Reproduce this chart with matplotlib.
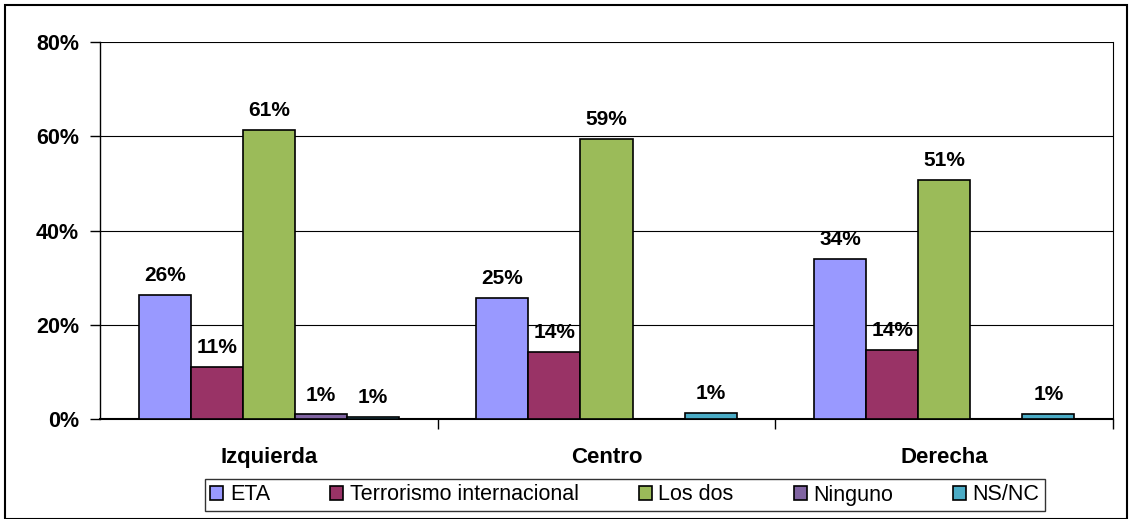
import matplotlib
matplotlib.use("Agg")
import matplotlib.pyplot as plt
from matplotlib.patches import Rectangle
import numpy as np

categories = ["Izquierda", "Centro", "Derecha"]
series_names = ["ETA", "Terrorismo internacional", "Los dos", "Ninguno", "NS/NC"]
eta = [26.3, 25.7, 34.0]
terrorismo = [11.0, 14.2, 14.6]
los_dos = [61.4, 59.4, 50.8]
ninguno = [1.0, 0.0, 0.0]
nsnc = [0.5, 1.3, 1.1]
labels = [["26%", "25%", "34%"], ["11%", "14%", "14%"], ["61%", "59%", "51%"],
          ["1%", "", ""], ["1%", "1%", "1%"]]
colors = ["#9999FF", "#993366", "#9BBB59", "#8064A2", "#4BACC6"]
yticks = [0, 20, 40, 60, 80]
ytick_labels = ["0%", "20%", "40%", "60%", "80%"]

plt.rcParams['font.family'] = ['Liberation Sans', 'DejaVu Sans']

fig = plt.figure(figsize=(11.33, 5.19), dpi=100)
ax = fig.add_axes([100/1133, 1-419/519, (1113-100)/1133, (419-42)/519])

series = [eta, terrorismo, los_dos, ninguno, nsnc]
x = np.arange(len(categories))
w = 52/337
for i, (vals, col) in enumerate(zip(series, colors)):
    pos = x + (i - 2) * w
    ax.bar(pos, vals, width=w, color=col, edgecolor='black', linewidth=1.2,
           label=series_names[i], zorder=3)
    for p, v, lab in zip(pos, vals, labels[i]):
        if lab:
            ax.annotate(lab, (p, v), xytext=(0, 7), textcoords='offset points',
                        ha='center', va='bottom', fontsize=15, fontweight='bold')

ax.set_xlim(-0.5, 2.5)
ax.set_ylim(0, 80)
ax.set_yticks(yticks)
ax.set_yticklabels(ytick_labels, fontsize=15.5, fontweight='bold')
ax.yaxis.grid(True, color='black', linewidth=0.8, zorder=0)
ax.set_xticks([0.5, 1.5, 2.5])
ax.set_xticklabels([])
ax.set_xticks(x, minor=True)
ax.set_xticklabels(categories, minor=True, fontsize=16, fontweight='bold')
ax.tick_params(axis='x', which='minor', length=0, pad=20)
ax.tick_params(axis='x', which='major', length=7, width=1, direction='out')
ax.tick_params(axis='y', length=7, width=1, direction='out', pad=8)
ax.spines['top'].set_visible(False)
ax.spines['right'].set_linewidth(0.8)
ax.spines['left'].set_linewidth(1)
ax.spines['bottom'].set_linewidth(1.5)

leg = fig.legend(loc='center', bbox_to_anchor=(625/1133, 1-495/519), ncol=5,
                 fontsize=15.5, frameon=True, fancybox=False, edgecolor='black',
                 handlelength=0.6, handleheight=0.6, handletextpad=0.3,
                 columnspacing=2.8, borderpad=0.25)
leg.get_frame().set_linewidth(1)

fig.patches.append(Rectangle((5/1133, 0), 1122/1133, 1-5/519, transform=fig.transFigure,
                             fill=False, edgecolor='black', linewidth=1.5))

fig.savefig("out.png", dpi=100)
